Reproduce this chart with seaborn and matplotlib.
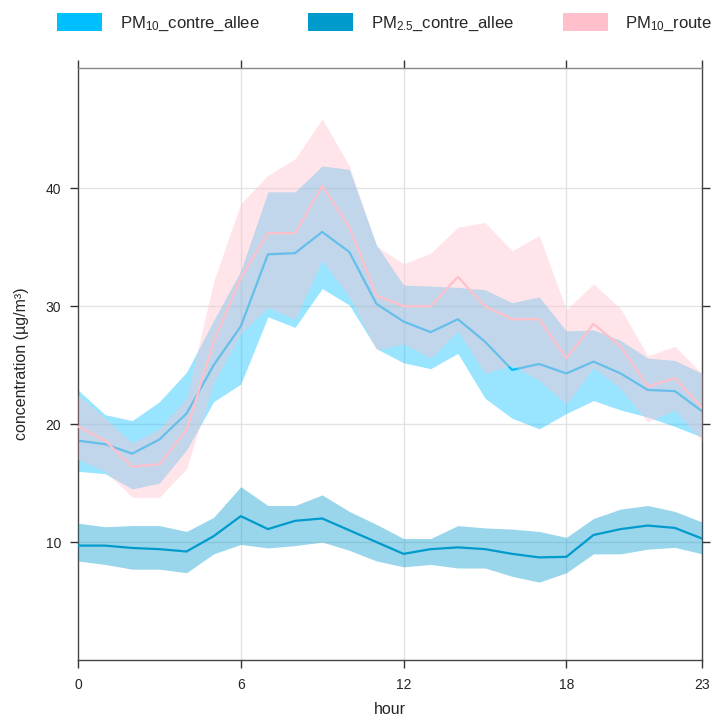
import numpy as np
import pandas as pd
import matplotlib
matplotlib.use("Agg")
import matplotlib.pyplot as plt
from matplotlib.patches import Patch
import seaborn as sns

# hourly means with their confidence band
hours = list(range(24))

pm10_ca_mean = [18.6, 18.3, 17.5, 18.7, 20.9, 25.0, 28.3, 34.4, 34.5, 36.3, 34.6, 30.2,
                28.7, 27.8, 28.9, 27.0, 24.6, 25.1, 24.3, 25.3, 24.3, 22.9, 22.8, 21.1]
pm10_ca_upper = [22.9, 20.8, 20.3, 21.9, 24.4, 28.8, 33.0, 39.7, 39.7, 41.9, 41.6, 35.2,
                 31.8, 31.7, 31.6, 31.4, 30.3, 30.8, 27.9, 28.0, 27.1, 25.6, 25.4, 24.3]
pm10_ca_lower = [16.0, 15.8, 14.5, 15.0, 17.8, 21.9, 23.4, 29.1, 28.2, 31.5, 30.1, 26.4,
                 25.2, 24.7, 26.0, 22.2, 20.5, 19.6, 20.9, 22.0, 21.2, 20.6, 19.8, 18.9]

pm25_ca_mean = [9.7, 9.7, 9.5, 9.4, 9.2, 10.5, 12.2, 11.1, 11.8, 12.0, 11.0, 10.0,
                9.0, 9.4, 9.55, 9.4, 9.0, 8.7, 8.75, 10.6, 11.1, 11.4, 11.2, 10.3]
pm25_ca_upper = [11.6, 11.3, 11.4, 11.4, 10.9, 12.1, 14.7, 13.1, 13.1, 14.0, 12.6, 11.5,
                 10.3, 10.3, 11.4, 11.2, 11.1, 10.9, 10.4, 12.0, 12.8, 13.1, 12.6, 11.7]
pm25_ca_lower = [8.4, 8.1, 7.7, 7.7, 7.4, 9.0, 9.8, 9.5, 9.7, 10.0, 9.3, 8.4,
                 7.9, 8.1, 7.8, 7.8, 7.1, 6.6, 7.4, 9.0, 9.0, 9.4, 9.55, 9.0]

pm10_rt_mean = [19.8, 18.6, 16.4, 16.6, 19.5, 27.0, 32.4, 36.2, 36.2, 40.2, 36.7, 30.9,
                30.0, 30.0, 32.5, 30.0, 28.9, 28.9, 25.6, 28.5, 26.6, 23.2, 23.9, 21.4]
pm10_rt_upper = [22.5, 20.5, 18.4, 19.6, 22.2, 32.1, 38.7, 41.1, 42.5, 45.9, 41.9, 35.1,
                 33.6, 34.5, 36.7, 37.1, 34.7, 36.0, 29.7, 31.9, 29.8, 25.8, 26.6, 24.3]
pm10_rt_lower = [17.0, 16.0, 13.8, 13.8, 16.2, 23.5, 27.7, 29.9, 28.9, 33.9, 30.8, 26.3,
                 26.8, 25.6, 27.9, 24.3, 25.0, 23.7, 21.7, 24.8, 23.0, 20.2, 21.2, 18.6]

series_names = ["PM10_contre_allee", "PM2.5_contre_allee", "PM10_route"]
series_labels = ["PM$_{10}$_contre_allee", "PM$_{2.5}$_contre_allee", "PM$_{10}$_route"]
colors = ["#00BFFF", "#009ACD", "#FFC0CB"]

frames = []
for name, m, lo, hi in zip(series_names,
                           [pm10_ca_mean, pm25_ca_mean, pm10_rt_mean],
                           [pm10_ca_lower, pm25_ca_lower, pm10_rt_lower],
                           [pm10_ca_upper, pm25_ca_upper, pm10_rt_upper]):
    frames.append(pd.DataFrame({"hour": hours, "value": m, "lower": lo,
                                "upper": hi, "variable": name}))
df = pd.concat(frames, ignore_index=True)

sns.set_theme(style="white")
plt.rcParams["font.family"] = ["Liberation Sans", "DejaVu Sans"]
plt.rcParams["mathtext.default"] = "regular"

fig = plt.figure(figsize=(7.16, 7.19), dpi=100)
ax = fig.add_axes([78 / 716, 1 - 660 / 719, 624 / 716, 592 / 719])

# light grid
for xv in [6, 12, 18]:
    ax.axvline(xv, color="#e3e3e3", lw=1, zorder=0)
for yv in [10, 20, 30, 40]:
    ax.axhline(yv, color="#e3e3e3", lw=1, zorder=0)

# band then line for each series, in order
z = 1
for name, col in zip(series_names, colors):
    d = df[df["variable"] == name]
    ax.fill_between(d["hour"], d["lower"], d["upper"], color=col, alpha=0.4,
                    lw=0, zorder=z)
    sns.lineplot(data=d, x="hour", y="value", color=col, lw=1.6, ax=ax,
                 errorbar=None, zorder=z + 1)
    z += 2

ax.set_xlim(0, 23)
ax.set_ylim(0, 50.2)
ax.set_xticks([0, 6, 12, 18, 23])
ax.set_yticks([10, 20, 30, 40])
ax.tick_params(axis="both", which="both", direction="out", length=6, width=1,
               color="#333333", labelsize=10, pad=7,
               top=True, right=True, labeltop=False, labelright=False,
               bottom=True, left=True)
ax.tick_params(axis="y", pad=6)
for sp in ax.spines.values():
    sp.set_visible(True)
    sp.set_color("#444444")
    sp.set_linewidth(1)
ax.spines["top"].set_color("#888888")

ax.set_xlabel("hour", fontsize=11.5, labelpad=7)
ax.set_ylabel("concentration (µg/m³)", fontsize=11.5, labelpad=12)

handles = [Patch(facecolor=c, edgecolor="none") for c in colors]
fig.legend(handles, series_labels, loc="center left",
           bbox_to_anchor=(57 / 716, 1 - 23 / 719), ncol=3, frameon=False,
           fontsize=12, handlelength=2.7, handleheight=1.25,
           handletextpad=1.05, columnspacing=2.95, borderpad=0,
           borderaxespad=0)

fig.savefig("out.png", dpi=100)
